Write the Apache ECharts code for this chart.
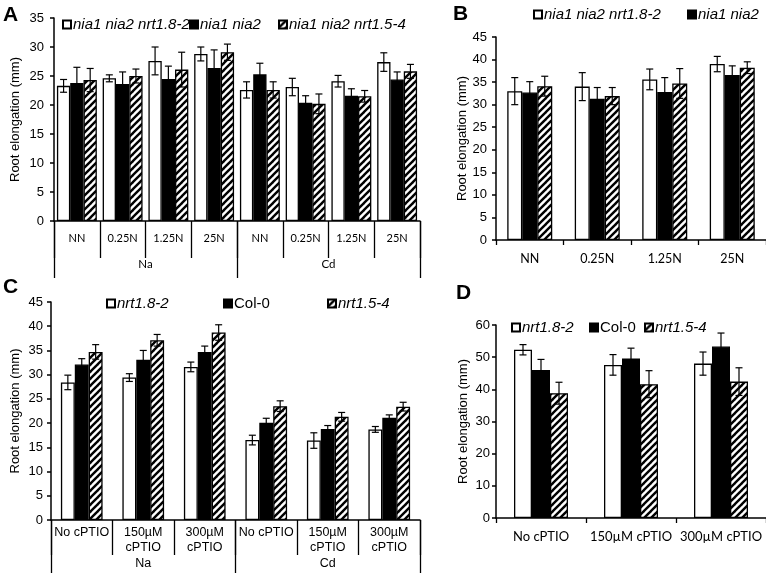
<!DOCTYPE html>
<html><head><meta charset="utf-8">
<script src="https://cdn.jsdelivr.net/npm/echarts@6/dist/echarts.min.js"></script>
<style>html,body{margin:0;padding:0;background:#fff}#c{width:766px;height:573px}</style>
</head><body><div id="c"></div>
<script>
// ---- Panel A ----
const catsA = ['NN','0.25N','1.25N','25N','NN','0.25N','1.25N','25N'];
const groupsA = ['Na','Cd'];
const namesAB = ['nia1 nia2 nrt1.8-2','nia1 nia2','nia1 nia2 nrt1.5-4'];
const a_nrt18 = [23.3,24.6,27.6,28.8,22.6,23.1,24.1,27.4];
const a_nia   = [23.8,23.6,24.5,26.4,25.3,20.4,21.6,24.4];
const a_nrt15 = [24.3,25.0,26.1,29.1,22.6,20.2,21.5,25.8];
const a_nrt18_err = [1.1,0.6,2.4,1.2,1.4,1.5,1.0,1.6];
const a_nia_err   = [2.7,2.1,2.2,3.1,1.9,1.2,1.2,1.3];
const a_nrt15_err = [2.0,1.2,3.0,1.4,1.4,1.7,1.0,1.2];
// ---- Panel B ----
const catsB = ['NN','0.25N','1.25N','25N'];
const b_nrt18 = [33.0,34.0,35.6,39.0];
const b_nia   = [32.7,31.3,32.8,36.6];
const b_nrt15 = [34.1,31.9,34.7,38.2];
const b_nrt18_err = [3.0,3.1,2.3,1.7];
const b_nia_err   = [2.4,2.5,3.2,2.0];
const b_nrt15_err = [2.2,1.9,3.3,1.3];
// ---- Panel C ----
const catsC = ['No cPTIO','150\u00b5M\ncPTIO','300\u00b5M\ncPTIO','No cPTIO','150\u00b5M\ncPTIO','300\u00b5M\ncPTIO'];
const groupsC = ['Na','Cd'];
const namesCD = ['nrt1.8-2','Col-0','nrt1.5-4'];
const c_nrt18 = [28.4,29.4,31.6,16.5,16.4,18.7];
const c_col   = [32.1,33.1,34.7,20.1,18.8,21.1];
const c_nrt15 = [34.7,37.1,38.7,23.5,21.3,23.4];
const c_nrt18_err = [1.5,0.8,1.0,1.0,1.6,0.6];
const c_col_err   = [1.2,1.9,1.2,0.9,0.7,0.6];
const c_nrt15_err = [1.5,1.2,1.6,1.1,0.9,0.9];
// ---- Panel D ----
const catsD = ['No cPTIO','150\u00b5M cPTIO','300\u00b5M cPTIO'];
const d_nrt18 = [52.3,47.6,48.0];
const d_col   = [46.0,49.6,53.3];
const d_nrt15 = [38.8,41.6,42.4];
const d_nrt18_err = [1.6,3.2,3.6];
const d_col_err   = [3.3,3.2,4.2];
const d_nrt15_err = [3.4,4.2,4.3];

// hatch pattern
const pc = document.createElement('canvas');
const S = 7; pc.width = S; pc.height = S;
const g = pc.getContext('2d');
g.fillStyle = '#fff'; g.fillRect(0,0,S,S);
g.strokeStyle = '#000'; g.lineWidth = 2.4;
for (const k of [-S,0,S]) { g.beginPath(); g.moveTo(k-1,S+1); g.lineTo(k+S+1,-1); g.stroke(); }
const hatch = {image: pc, repeat: 'repeat'};

const styles = [
  {color:'#fff', borderColor:'#000', borderWidth:1.3},
  {color:'#000', borderColor:'#000', borderWidth:1.3},
  {color:hatch, borderColor:'#000', borderWidth:1.3}
];

function bars(xi, yi, names, vals, bw){
  return vals.map((v,s)=>({type:'bar', name:names[s], xAxisIndex:xi, yAxisIndex:yi, data:v,
    barWidth:bw, barGap:'0%', itemStyle:styles[s], silent:true, animation:false}));
}
function errSeries(xi, yi, vals, errs, bw){
  const data = [];
  vals.forEach((arr,s)=>arr.forEach((v,i)=>data.push([i, v, errs[s][i], s])));
  return {type:'custom', xAxisIndex:xi, yAxisIndex:yi, z:10, silent:true, animation:false,
    encode:{x:0, y:1},
    renderItem(params, api){
      const i = api.value(0), v = api.value(1), e = api.value(2), s = api.value(3);
      const c = api.coord([i, v]);
      const x = c[0] + (s-1)*bw;
      const hi = api.coord([i, v+e])[1], lo = api.coord([i, v-e])[1];
      const w = 3.5, st = {stroke:'#000', lineWidth:1.2};
      return {type:'group', children:[
        {type:'line', shape:{x1:x,y1:hi,x2:x,y2:lo}, style:st},
        {type:'line', shape:{x1:x-w,y1:hi,x2:x+w,y2:hi}, style:st},
        {type:'line', shape:{x1:x-w,y1:lo,x2:x+w,y2:lo}, style:st}]};
    },
    data};
}
const LS = 'Liberation Sans';
function yAx(gi, max, interval, gap, margin){
  return {type:'value', gridIndex:gi, min:0, max, interval,
    axisLine:{show:true, lineStyle:{color:'#000', width:1.5}},
    axisTick:{show:true, length:4, lineStyle:{color:'#000', width:1.5}},
    splitLine:{show:false},
    axisLabel:{color:'#000', fontFamily:LS, fontSize:13, margin:margin},
    name:'Root elongation (mm)', nameLocation:'middle', nameGap:gap,
    nameTextStyle:{color:'#000', fontFamily:LS, fontSize:13}};
}
function xAx(gi, data, tickLen, labelOpts, showLine){
  return {type:'category', gridIndex:gi, data, position:'bottom',
    axisLine:{show:showLine!==false, lineStyle:{color:'#000', width:1.5}},
    axisTick:{show:true, interval:0, alignWithLabel:false, length:tickLen, lineStyle:{color:'#000', width:1.3}},
    axisLabel:Object.assign({interval:0, color:'#000'}, labelOpts),
    splitLine:{show:false}};
}
function lg(name, left, top, size, italic){
  return {data:[name], left, top, icon:'rect', itemWidth:8, itemHeight:8, itemGap:0,
    selectedMode:false, padding:0,
    textStyle:{fontFamily:LS, fontSize:size, fontStyle:italic?'italic':'normal', color:'#000', padding:[0,0,0,-3]}};
}
function letter(t, left, top){
  return {type:'text', left, top, style:{text:t, font:'bold 21px "Liberation Sans"', fill:'#000'}};
}

const option = {
  animation:false,
  backgroundColor:'#fff',
  grid:[
    {left:54, top:18, width:366, height:203},
    {left:496, top:37, width:270, height:203},
    {left:51, top:302, width:369, height:218},
    {left:496, top:325, width:270, height:193}
  ],
  xAxis:[
    xAx(0, catsA, 37, {fontFamily:'Lato', fontSize:11, margin:12}),
    xAx(0, groupsA, 57, {fontFamily:'Lato', fontSize:11.5, margin:37}, false),
    xAx(1, catsB, 5, {fontFamily:'Lato', fontSize:12.5, margin:12}),
    xAx(2, catsC, 35, {fontFamily:LS, fontSize:12.5, margin:5, lineHeight:15}),
    xAx(2, groupsC, 55, {fontFamily:LS, fontSize:12.5, margin:37}, false),
    xAx(3, catsD, 5, {fontFamily:'Lato', fontSize:13, margin:12})
  ],
  yAxis:[
    yAx(0, 35, 5, 32, 10),
    yAx(1, 45, 5, 27, 9),
    yAx(2, 45, 5, 29, 8),
    yAx(3, 60, 10, 26, 6)
  ],
  legend:[
    lg(namesAB[0], 62, 17, 15, true),
    lg(namesAB[1], 189, 17, 15, true),
    lg(namesAB[2], 278, 17, 15, true),
    lg(namesAB[0], 533, 7, 15, true),
    lg(namesAB[1], 687, 7, 15, true),
    lg(namesCD[0], 106, 296, 15, true),
    lg(namesCD[1], 223, 296, 15, false),
    lg(namesCD[2], 327, 296, 15, true),
    lg(namesCD[0], 511, 320, 15, true),
    lg(namesCD[1], 589, 320, 15, false),
    lg(namesCD[2], 644, 320, 15, true)
  ],
  graphic:[letter('A',3,5), letter('B',453,4), letter('C',3,277), letter('D',456,283)],
  series:[
    ...bars(0,0,namesAB,[a_nrt18,a_nia,a_nrt15],13.3),
    errSeries(0,0,[a_nrt18,a_nia,a_nrt15],[a_nrt18_err,a_nia_err,a_nrt15_err],13.3),
    ...bars(2,1,namesAB,[b_nrt18,b_nia,b_nrt15],15),
    errSeries(2,1,[b_nrt18,b_nia,b_nrt15],[b_nrt18_err,b_nia_err,b_nrt15_err],15),
    ...bars(3,2,namesCD,[c_nrt18,c_col,c_nrt15],13.9),
    errSeries(3,2,[c_nrt18,c_col,c_nrt15],[c_nrt18_err,c_col_err,c_nrt15_err],13.9),
    ...bars(5,3,namesCD,[d_nrt18,d_col,d_nrt15],18),
    errSeries(5,3,[d_nrt18,d_col,d_nrt15],[d_nrt18_err,d_col_err,d_nrt15_err],18)
  ]
};
const chart = echarts.init(document.getElementById('c'), null, {renderer:'canvas'});
chart.setOption(option);
</script>
</body></html>
